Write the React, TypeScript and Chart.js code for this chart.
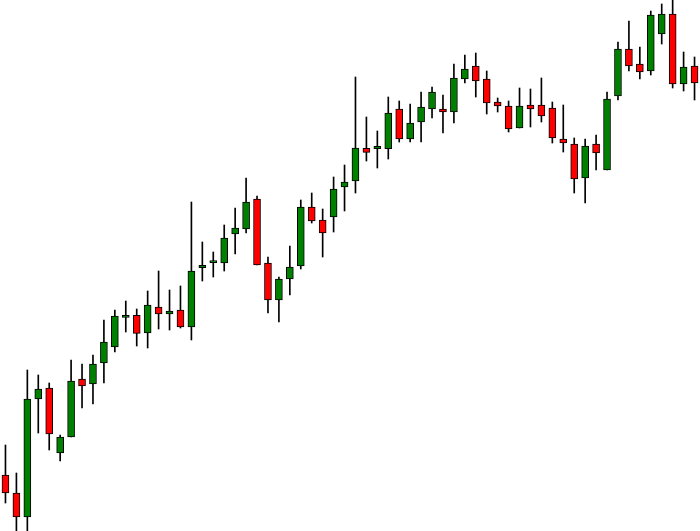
import { useEffect, useRef } from "react";
import { Chart, registerables } from "chart.js";

Chart.register(...registerables);

const opens = [56, 38, 14, 132, 143, 78, 94, 152, 147, 168, 184, 213.5, 215.7, 198, 224, 217, 221, 204, 263.3, 268.3, 268, 297, 302, 332, 268, 231, 252, 265, 324, 311, 314, 344, 350, 382.7, 382.3, 382.3, 422, 392, 409, 422, 422, 419, 452, 465, 452, 429, 425, 403, 426, 426, 423, 392, 387, 353, 387, 361, 435, 482, 467, 460, 497, 517, 447, 465];
const highs = [86, 58, 161, 156, 148, 96, 171, 167, 176, 211, 221, 230, 222, 240, 260, 241, 245, 329, 289, 279, 306, 323, 353, 335, 274, 254, 285, 331, 338, 322, 354, 366, 454, 414, 400, 434, 430, 427, 439, 444, 436, 467, 476, 478, 460, 433, 430, 443, 442, 453, 429, 426, 393, 392, 396, 439, 489, 510, 484, 520, 527, 531, 479, 474];
const lows = [28, 0, 0, 98, 81, 70, 94, 123, 127, 148, 179, 199, 185, 183, 202, 201, 203, 191, 250, 254, 260, 277, 298, 266, 218, 209, 236, 262, 308, 274, 299, 320, 338, 370, 363, 372, 389, 389, 389, 413, 398, 408, 448, 434, 417, 419, 399, 403, 404, 409, 388, 379, 338, 328, 361, 361, 431, 460, 452, 456, 487, 443, 440, 431];
const closes = [38, 14, 132, 142, 97, 94, 150, 145, 167, 189, 215, 215.7, 197.7, 226, 217, 220, 204, 260, 265.7, 270.3, 293, 303, 329, 266, 231, 252, 264, 324, 310, 298, 342, 349, 383, 378.7, 384.7, 418, 392, 408, 424, 439, 419, 453, 462, 450, 428, 425, 402, 425, 422, 415, 393, 388, 352, 385, 378, 432, 482, 465, 459, 516, 517, 447, 464, 448];
const labels = opens.map((_, i) => `${i + 1}`);

export default function App() {
  const ref = useRef<HTMLCanvasElement>(null);
  useEffect(() => {
    const bodies = opens.map((o, i) => [o, closes[i]]);
    const wicks = lows.map((l, i) => [l, highs[i]]);
    const colors = opens.map((o, i) => (closes[i] >= o ? "#008000" : "#ff0000"));
    const chart = new Chart(ref.current!, {
      type: "bar",
      data: {
        labels,
        datasets: [
          {
            data: bodies as any,
            backgroundColor: colors,
            borderColor: "#000000",
            borderWidth: 1,
            borderSkipped: false,
            barThickness: 7,
            grouped: false,
            order: 0,
          } as any,
          {
            data: wicks as any,
            backgroundColor: "#000000",
            borderWidth: 0,
            barThickness: 1,
            grouped: false,
            order: 1,
          } as any,
        ],
      },
      options: {
        responsive: false,
        animation: false,
        layout: { padding: 0 },
        plugins: { legend: { display: false }, tooltip: { enabled: false } },
        scales: {
          x: { display: false },
          y: { display: false, min: 0, max: 531 },
        },
      },
    });
    return () => chart.destroy();
  }, []);
  return (
    <div style={{ position: "absolute", left: 0, top: 0, width: 700, height: 531, background: "#fff" }}>
      <canvas ref={ref} width={700} height={531} style={{ display: "block" }} />
    </div>
  );
}
